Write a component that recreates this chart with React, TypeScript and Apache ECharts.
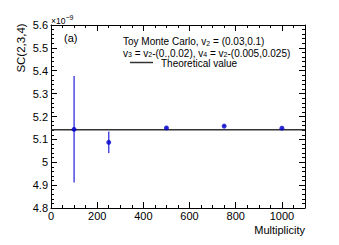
import React, { useEffect, useRef } from "react";
import * as echarts from "echarts";

const multiplicity = [100, 250, 500, 750, 1000];
const scValues = [5.144, 5.087, 5.15, 5.158, 5.149];
const scErrors = [0.233, 0.047, 0.006, 0.004, 0.003];
const theoreticalValue = 5.142;
const xLabelValues = [0, 200, 400, 600, 800, 1000];

const FONT = "'Liberation Sans', Arial, Helvetica, sans-serif";

function xAxisCfg(position: string, interval: number, tickLen: number, main: boolean, labels: boolean) {
  return {
    type: "value",
    position,
    min: 0,
    max: 1100,
    interval,
    axisLine: { show: main, onZero: false, lineStyle: { color: "#000", width: 1 } },
    axisTick: { show: true, inside: true, length: tickLen, lineStyle: { color: "#000", width: 1 } },
    axisLabel: {
      show: labels,
      margin: 2,
      fontFamily: FONT,
      fontSize: 11,
      color: "#000",
      formatter: (v: number) => (xLabelValues.indexOf(Math.round(v)) >= 0 ? String(Math.round(v)) : ""),
    },
    splitLine: { show: false },
  };
}

function yAxisCfg(position: string, interval: number, tickLen: number, main: boolean, labels: boolean) {
  return {
    type: "value",
    position,
    min: 4.8,
    max: 5.6,
    interval,
    axisLine: { show: main, onZero: false, lineStyle: { color: "#000", width: 1 } },
    axisTick: { show: true, inside: true, length: tickLen, lineStyle: { color: "#000", width: 1 } },
    axisLabel: {
      show: labels,
      margin: 3,
      fontFamily: FONT,
      fontSize: 11,
      color: "#000",
      formatter: (v: number) => String(Number(v.toFixed(1))),
    },
    splitLine: { show: false },
  };
}

export default function App() {
  const ref = useRef<HTMLDivElement>(null);
  useEffect(() => {
    if (!ref.current) return;
    const chart = echarts.init(ref.current, null, { renderer: "svg" });
    const sub = { fontSize: 7, lineHeight: 4, verticalAlign: "bottom", fontFamily: FONT, color: "#000" };
    const txt = { fontSize: 10, lineHeight: 10, verticalAlign: "middle", fontFamily: FONT, color: "#000" };
    chart.setOption({
      animation: false,
      backgroundColor: "#fff",
      grid: { left: 51, right: 34, top: 25, bottom: 37, containLabel: false, outerBoundsMode: "none" },
      xAxis: [
        xAxisCfg("bottom", 200, 6, true, true),
        xAxisCfg("bottom", 50, 3, false, false),
        xAxisCfg("top", 200, 6, true, false),
        xAxisCfg("top", 50, 3, false, false),
      ],
      yAxis: [
        yAxisCfg("left", 0.1, 6, true, true),
        yAxisCfg("left", 0.02, 3, false, false),
        yAxisCfg("right", 0.1, 6, true, false),
        yAxisCfg("right", 0.02, 3, false, false),
      ],
      series: [
        {
          type: "line",
          xAxisIndex: 0,
          yAxisIndex: 0,
          data: [
            [0, theoreticalValue],
            [1100, theoreticalValue],
          ],
          symbol: "none",
          lineStyle: { color: "#333", width: 1.5 },
          z: 2,
        },
        {
          type: "custom",
          xAxisIndex: 0,
          yAxisIndex: 0,
          data: multiplicity.map((m, i) => [m, scValues[i] - scErrors[i], scValues[i] + scErrors[i]]),
          encode: { x: 0, y: [1, 2] },
          renderItem: (params: any, api: any) => {
            const p1 = api.coord([api.value(0), api.value(1)]);
            const p2 = api.coord([api.value(0), api.value(2)]);
            return {
              type: "line",
              shape: { x1: p1[0], y1: p1[1], x2: p2[0], y2: p2[1] },
              style: { stroke: "rgba(30,30,220,0.8)", lineWidth: 1.5 },
            };
          },
          z: 3,
        },
        {
          type: "scatter",
          xAxisIndex: 0,
          yAxisIndex: 0,
          data: multiplicity.map((m, i) => [m, scValues[i]]),
          symbol: "circle",
          symbolSize: 5,
          itemStyle: { color: "#0000cc" },
          z: 4,
        },
      ],
      graphic: [
        {
          type: "text",
          x: 21,
          y: 48,
          rotation: Math.PI / 2,
          style: { text: "SC(2,3,4)", fontFamily: FONT, fontSize: 11.5, fill: "#000", align: "center", verticalAlign: "middle" },
        },
        {
          type: "text",
          x: 51,
          y: 21,
          style: { text: "×10", fontFamily: FONT, fontSize: 8.5, fill: "#000", align: "left", verticalAlign: "middle" },
        },
        {
          type: "text",
          x: 65.5,
          y: 17,
          style: { text: "−9", fontFamily: FONT, fontSize: 7, fill: "#000", align: "left", verticalAlign: "middle" },
        },
        {
          type: "text",
          x: 64,
          y: 38,
          style: { text: "(a)", fontFamily: FONT, fontSize: 11, fill: "#000", align: "left", verticalAlign: "middle" },
        },
        {
          type: "text",
          x: 123,
          y: 41.5,
          style: {
            text: "{t|Toy Monte Carlo, v}{s|2}{t| = (0.03,0.1)}",
            rich: { t: txt, s: sub },
            align: "left",
            verticalAlign: "middle",
          },
        },
        {
          type: "text",
          x: 123,
          y: 53,
          style: {
            text: "{t|v}{s|3}{t| = v}{s|2}{t|-(0.,0.02), v}{s|4}{t| = v}{s|2}{t|-(0.005,0.025)}",
            rich: { t: txt, s: sub },
            align: "left",
            verticalAlign: "middle",
          },
        },
        {
          type: "line",
          shape: { x1: 130, y1: 62.5, x2: 153, y2: 62.5 },
          style: { stroke: "#333", lineWidth: 1.5 },
        },
        {
          type: "text",
          x: 161,
          y: 63.5,
          style: { text: "Theoretical value", fontFamily: FONT, fontSize: 10, fill: "#000", align: "left", verticalAlign: "middle" },
        },
        {
          type: "text",
          x: 305,
          y: 229.5,
          style: { text: "Multiplicity", fontFamily: FONT, fontSize: 11, fill: "#000", align: "right", verticalAlign: "middle" },
        },
      ],
    });
    return () => chart.dispose();
  }, []);
  return <div ref={ref} style={{ position: "fixed", left: 0, top: 0, width: 339, height: 245 }} />;
}
